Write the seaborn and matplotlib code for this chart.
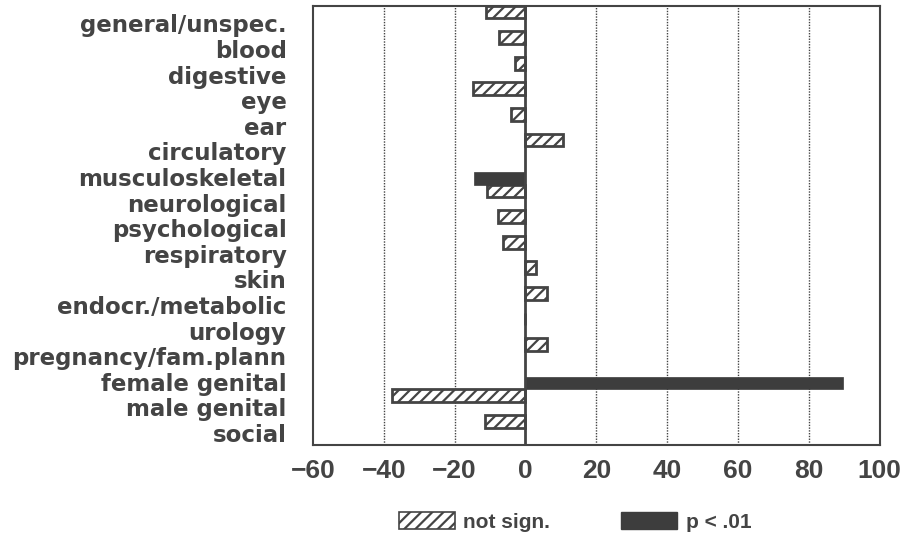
import numpy as np
import pandas as pd
import matplotlib
matplotlib.use("Agg")
import matplotlib.pyplot as plt
from matplotlib.patches import Patch
import seaborn as sns

# data
categories = [
    "general/unspec.", "blood", "digestive", "eye", "ear", "circulatory",
    "musculoskeletal", "neurological", "psychological", "respiratory", "skin",
    "endocr./metabolic", "urology", "pregnancy/fam.plann", "female genital",
    "male genital", "social",
]
values = [-11.2, -7.6, -3.1, -14.7, -4.1, 10.7, -14.6, -11.0, -7.8, -6.3,
          2.9, 6.0, 0.0, 6.2, 89.5, -37.7, -11.5]
significance = ["not sign.", "not sign.", "not sign.", "not sign.", "not sign.",
                "not sign.", "p < .01", "not sign.", "not sign.", "not sign.",
                "not sign.", "not sign.", "not sign.", "not sign.", "p < .01",
                "not sign.", "not sign."]
groups = ["not sign.", "p < .01"]
xticks = [-60, -40, -20, 0, 20, 40, 60, 80, 100]

df = pd.DataFrame({"category": categories, "value": values, "group": significance})

ink = "#444444"
dark = "#3d3d3d"

sns.set_style("white")
plt.rcParams["font.family"] = ["Liberation Sans", "DejaVu Sans"]
plt.rcParams["font.weight"] = "bold"
plt.rcParams["hatch.linewidth"] = 1.6
plt.rcParams["hatch.color"] = ink

fig = plt.figure(figsize=(9.07, 5.52), dpi=100)
ax = fig.add_axes([0.345, 0.194, 0.625, 0.795])

sns.barplot(data=df, x="value", y="category", hue="group", order=categories,
            hue_order=groups, dodge=True, width=1.0,
            palette={"not sign.": "white", "p < .01": dark},
            edgecolor=ink, linewidth=2, legend=False, ax=ax)

# hatching for the non-significant bars, flat fill for the others
for bar in ax.containers[0]:
    bar.set_hatch("///")
for bar in ax.containers[1]:
    bar.set_edgecolor(dark)
    bar.set_linewidth(0.5)

# grid and zero line
for x in xticks[1:-1]:
    if x == 0:
        ax.axvline(0, color=ink, lw=2, zorder=3)
    else:
        ax.axvline(x, color=ink, lw=1, ls=(0, (1, 1)), zorder=0)

ax.set_xlim(-60, 100)
ax.set_ylim(16.67, -0.48)
ax.set_xticks(xticks)
ax.set_xticklabels([str(x).replace("-", "\u2212") for x in xticks],
                   fontsize=19, color=ink, fontweight="bold")
ax.set_yticks(np.arange(len(categories)) + 0.2)
ax.set_yticklabels(categories, fontsize=16.5, color=ink, fontweight="bold",
                   family="DejaVu Sans")
ax.tick_params(axis="both", length=0)
ax.tick_params(axis="x", pad=10)
ax.tick_params(axis="y", pad=19)
ax.set_xlabel("")
ax.set_ylabel("")
for s in ax.spines.values():
    s.set_color(ink)
    s.set_linewidth(1.5)

handles = [
    Patch(facecolor="white", edgecolor=ink, hatch="///", lw=1.2),
    Patch(facecolor=dark, edgecolor=dark),
]
fig.legend(handles, groups, loc="center left", bbox_to_anchor=(0.419, 0.054),
           ncol=2, frameon=False, handlelength=2.7, handleheight=0.85,
           handletextpad=0.4, columnspacing=3.4,
           prop={"size": 15, "weight": "bold"}, labelcolor=ink)

fig.savefig("out.png", dpi=100)
